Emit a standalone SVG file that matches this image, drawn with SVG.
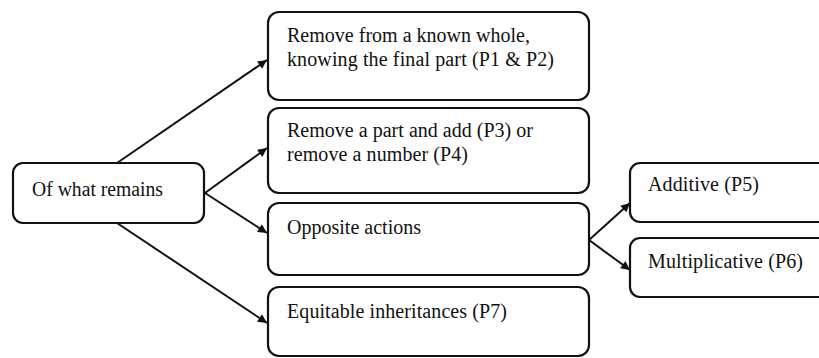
<svg xmlns="http://www.w3.org/2000/svg" width="819" height="358" viewBox="0 0 819 358">
<style>
.box{fill:#fff;stroke:#111;stroke-width:2.2}
.t{font-family:'Liberation Serif','DejaVu Serif','Times New Roman',serif;font-size:20px;fill:#111}
.c{stroke:#111;stroke-width:2;fill:none}
</style>
<defs>
<marker id="ah" viewBox="0 0 10 10" refX="10" refY="5" markerWidth="11" markerHeight="9" markerUnits="userSpaceOnUse" orient="auto">
<path d="M0,0 L10,5 L0,10 z" fill="#111"/>
</marker>
</defs>
<rect width="819" height="358" fill="#fff"/>
<g id="connectors">
<line class="c" x1="117" y1="163" x2="267" y2="60" marker-end="url(#ah)"/>
<line class="c" x1="205" y1="193" x2="267" y2="148" marker-end="url(#ah)"/>
<line class="c" x1="205" y1="193" x2="267" y2="233" marker-end="url(#ah)"/>
<line class="c" x1="117" y1="223" x2="267" y2="323" marker-end="url(#ah)"/>
<line class="c" x1="589" y1="240" x2="630" y2="203" marker-end="url(#ah)"/>
<line class="c" x1="589" y1="240" x2="630" y2="270" marker-end="url(#ah)"/>
</g>
<g id="root">
<rect class="box" x="13" y="163" width="191" height="60" rx="10"/>
<text class="t" x="32" y="196" textLength="131" lengthAdjust="spacingAndGlyphs">Of what remains</text>
</g>
<g id="n1">
<rect class="box" x="268" y="12" width="321" height="88" rx="11"/>
<text class="t" x="287" y="42" textLength="243" lengthAdjust="spacing">Remove from a known whole,</text>
<text class="t" x="287" y="66" textLength="267" lengthAdjust="spacing">knowing the final part (P1 &amp; P2)</text>
</g>
<g id="n2">
<rect class="box" x="268" y="108" width="321" height="85" rx="11"/>
<text class="t" x="287" y="137" textLength="246" lengthAdjust="spacing">Remove a part and add (P3) or</text>
<text class="t" x="287" y="161" textLength="181" lengthAdjust="spacing">remove a number (P4)</text>
</g>
<g id="n3">
<rect class="box" x="268" y="203" width="321" height="72" rx="11"/>
<text class="t" x="287" y="234" textLength="134" lengthAdjust="spacing">Opposite actions</text>
</g>
<g id="n4">
<rect class="box" x="268" y="287" width="321" height="69" rx="11"/>
<text class="t" x="287" y="318" textLength="220" lengthAdjust="spacing">Equitable inheritances (P7)</text>
</g>
<g id="n5">
<rect class="box" x="630" y="163" width="200" height="59" rx="10"/>
<text class="t" x="648" y="191" textLength="111" lengthAdjust="spacing">Additive (P5)</text>
</g>
<g id="n6">
<rect class="box" x="630" y="238" width="200" height="59" rx="10"/>
<text class="t" x="648" y="268" textLength="155" lengthAdjust="spacing">Multiplicative (P6)</text>
</g>
</svg>
